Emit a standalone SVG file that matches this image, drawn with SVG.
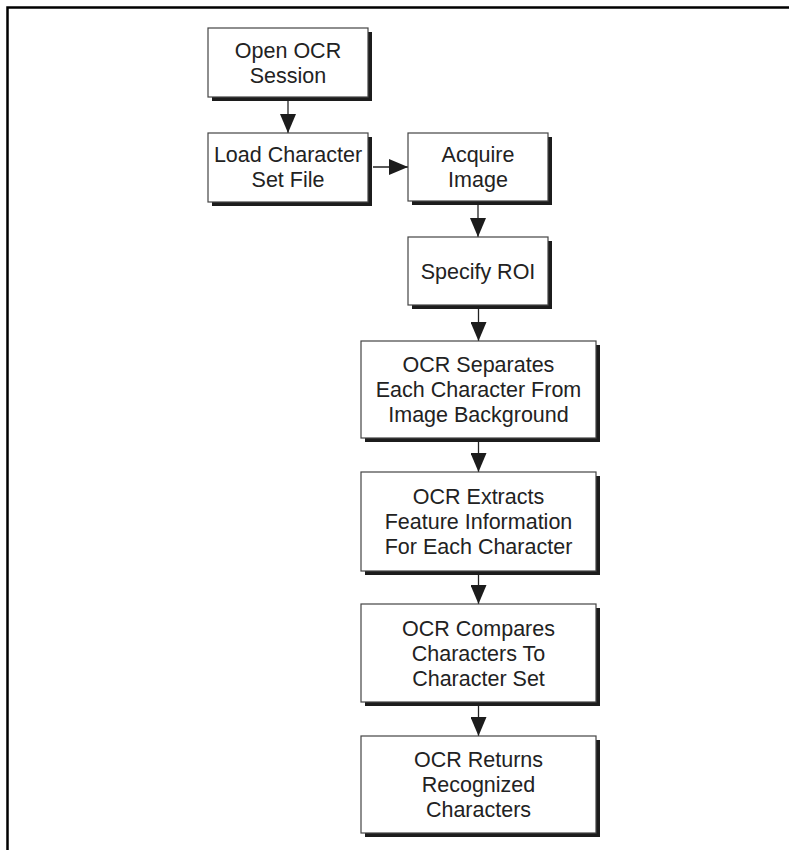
<svg xmlns="http://www.w3.org/2000/svg" width="789" height="850" viewBox="0 0 789 850">
<style>
.sh{fill:#1c1c1c}
.bx{fill:#fff;stroke:#444;stroke-width:1.2}
.t{font-family:"Liberation Sans",Arial,sans-serif;font-size:21.5px;fill:#222;text-anchor:middle}
.c{stroke:#222;stroke-width:1.3;fill:none}
.frame{stroke:#000;stroke-width:2.5;fill:none}
</style>
<defs>
<marker id="ah" markerWidth="19" markerHeight="16" refX="19" refY="8" orient="auto" markerUnits="userSpaceOnUse">
<path d="M0,0 L19,8 L0,16 Z" fill="#1c1c1c"/>
</marker>
</defs>
<path class="frame" d="M7.5,850 L7.5,7.5 L789,7.5"/>
<g id="connectors">
<line class="c" x1="288" y1="101" x2="288" y2="133" marker-end="url(#ah)"/>
<line class="c" x1="373" y1="167" x2="408" y2="167" marker-end="url(#ah)"/>
<line class="c" x1="478" y1="205" x2="478" y2="237" marker-end="url(#ah)"/>
<line class="c" x1="478.5" y1="309" x2="478.5" y2="341" marker-end="url(#ah)"/>
<line class="c" x1="478.5" y1="442" x2="478.5" y2="472" marker-end="url(#ah)"/>
<line class="c" x1="478.5" y1="575" x2="478.5" y2="604" marker-end="url(#ah)"/>
<line class="c" x1="478.5" y1="706" x2="478.5" y2="736" marker-end="url(#ah)"/>
</g>
<g id="n1">
<rect class="sh" x="212" y="32" width="160" height="69"/>
<rect class="bx" x="208" y="28" width="160" height="69"/>
<text class="t" x="288" y="57.5">Open OCR</text>
<text class="t" x="288" y="82.5">Session</text>
</g>
<g id="n2">
<rect class="sh" x="212" y="137" width="160" height="69"/>
<rect class="bx" x="208" y="133" width="160" height="69"/>
<text class="t" x="288" y="162">Load Character</text>
<text class="t" x="288" y="187">Set File</text>
</g>
<g id="n3">
<rect class="sh" x="412" y="137" width="140" height="68"/>
<rect class="bx" x="408" y="133" width="140" height="68"/>
<text class="t" x="478" y="161.5">Acquire</text>
<text class="t" x="478" y="186.5">Image</text>
</g>
<g id="n4">
<rect class="sh" x="412" y="241" width="140" height="68"/>
<rect class="bx" x="408" y="237" width="140" height="68"/>
<text class="t" x="478" y="278.5">Specify ROI</text>
</g>
<g id="n5">
<rect class="sh" x="365" y="345" width="235" height="97"/>
<rect class="bx" x="361" y="341" width="235" height="97"/>
<text class="t" x="478.5" y="372">OCR Separates</text>
<text class="t" x="478.5" y="397">Each Character From</text>
<text class="t" x="478.5" y="422">Image Background</text>
</g>
<g id="n6">
<rect class="sh" x="365" y="476" width="235" height="99"/>
<rect class="bx" x="361" y="472" width="235" height="99"/>
<text class="t" x="478.5" y="504">OCR Extracts</text>
<text class="t" x="478.5" y="529">Feature Information</text>
<text class="t" x="478.5" y="554">For Each Character</text>
</g>
<g id="n7">
<rect class="sh" x="365" y="608" width="235" height="98"/>
<rect class="bx" x="361" y="604" width="235" height="98"/>
<text class="t" x="478.5" y="635.5">OCR Compares</text>
<text class="t" x="478.5" y="660.5">Characters To</text>
<text class="t" x="478.5" y="685.5">Character Set</text>
</g>
<g id="n8">
<rect class="sh" x="365" y="740" width="235" height="97"/>
<rect class="bx" x="361" y="736" width="235" height="97"/>
<text class="t" x="478.5" y="767">OCR Returns</text>
<text class="t" x="478.5" y="792">Recognized</text>
<text class="t" x="478.5" y="817">Characters</text>
</g>
</svg>
